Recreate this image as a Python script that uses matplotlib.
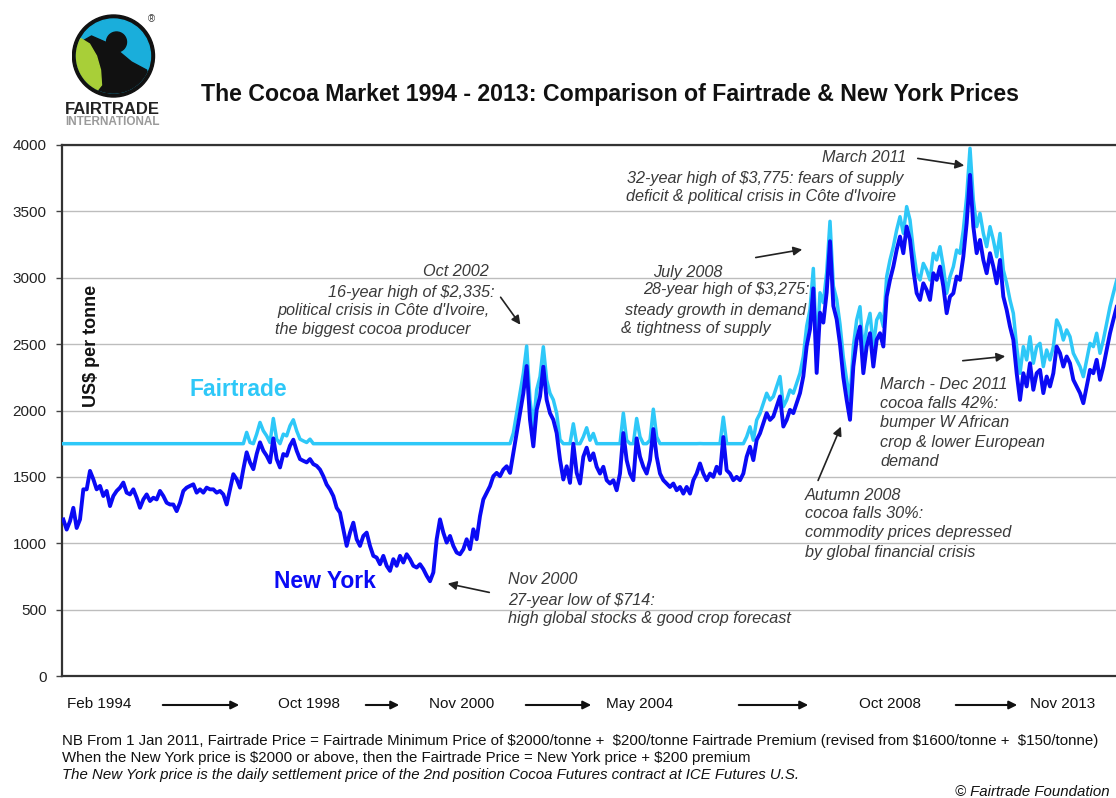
import numpy as np
import matplotlib
matplotlib.use("Agg")
import matplotlib.pyplot as plt
from matplotlib.patches import Circle, Polygon, FancyArrowPatch

# ---------------- data ----------------
# New York cocoa price, US$/tonne, sampled roughly every 3 weeks, Feb 1994 -> end 2013
ny_price = [
    1179, 1103, 1166, 1267, 1115, 1179, 1406, 1406, 1545, 1482,
    1406, 1432, 1356, 1394, 1280, 1356, 1394, 1419, 1457, 1381,
    1368, 1406, 1343, 1267, 1330, 1368, 1318, 1343, 1330, 1394,
    1356, 1305, 1292, 1292, 1242, 1305, 1394, 1419, 1432, 1444,
    1381, 1406, 1381, 1419, 1406, 1406, 1381, 1394, 1368, 1292,
    1406, 1520, 1482, 1419, 1558, 1685, 1609, 1558, 1672, 1760,
    1697, 1659, 1609, 1790, 1634, 1571, 1672, 1659, 1735, 1780,
    1697, 1634, 1621, 1609, 1634, 1596, 1583, 1555, 1505, 1442,
    1405, 1355, 1267, 1230, 1105, 980, 1080, 1155, 1030, 980,
    1055, 1080, 980, 905, 892, 842, 905, 830, 792, 880,
    830, 905, 855, 917, 880, 830, 817, 842, 805, 755,
    714, 780, 1030, 1180, 1080, 1005, 1055, 980, 930, 917,
    955, 1030, 955, 1105, 1030, 1205, 1330, 1380, 1430, 1505,
    1530, 1505, 1555, 1580, 1530, 1680, 1830, 1980, 2130, 2335,
    1930, 1730, 2005, 2105, 2330, 2080, 1980, 1930, 1830, 1630,
    1480, 1580, 1455, 1750, 1530, 1450, 1652, 1720, 1626, 1677,
    1576, 1525, 1576, 1475, 1450, 1475, 1399, 1525, 1830, 1626,
    1525, 1475, 1790, 1652, 1576, 1525, 1626, 1860, 1652, 1525,
    1475, 1450, 1424, 1450, 1399, 1424, 1374, 1424, 1374, 1475,
    1525, 1601, 1525, 1475, 1525, 1500, 1576, 1525, 1800, 1550,
    1525, 1475, 1500, 1475, 1525, 1652, 1727, 1626, 1778, 1828,
    1904, 1980, 1929, 1955, 2030, 2106, 1879, 1929, 2005, 1980,
    2056, 2131, 2258, 2485, 2611, 2920, 2283, 2737, 2662, 2889,
    3275, 2788, 2687, 2500, 2250, 2080, 1930, 2331, 2532, 2632,
    2281, 2482, 2582, 2331, 2532, 2582, 2482, 2858, 2984, 3084,
    3210, 3310, 3185, 3386, 3285, 3059, 2884, 2833, 2958, 2908,
    2833, 3034, 2984, 3084, 2934, 2733, 2858, 2883, 3009, 2984,
    3160, 3411, 3775, 3386, 3185, 3285, 3134, 3034, 3185, 3084,
    2958, 3134, 2858, 2758, 2632, 2532, 2281, 2080, 2281, 2181,
    2356, 2156, 2281, 2306, 2131, 2256, 2181, 2281, 2482, 2432,
    2331, 2407, 2356, 2231, 2181, 2131, 2055, 2181, 2306, 2281,
    2382, 2231, 2331, 2457, 2582, 2683, 2780,
]

# Fairtrade pricing rule (from the chart's footnote)
ft_min_price_old, ft_premium_old = 1600, 150   # before 1 Jan 2011
ft_min_price_new, ft_premium_new = 2000, 200   # from 1 Jan 2011
rule_change_sample = 268                       # first sample of 2011

x_labels = ["Feb 1994", "Oct 1998", "Nov 2000", "May 2004", "Oct 2008", "Nov 2013"]
y_ticks = [0, 500, 1000, 1500, 2000, 2500, 3000, 3500, 4000]

# ---------------- derived series ----------------
ny = np.array(ny_price, dtype=float)
samples = np.arange(1, len(ny) + 1)
ft = np.where(samples < rule_change_sample,
              np.maximum(ft_min_price_old + ft_premium_old, ny + ft_premium_old),
              np.maximum(ft_min_price_new + ft_premium_new, ny + ft_premium_new))

# ---------------- figure ----------------
W, H = 1116, 798
plt.rcParams['font.family'] = ['Liberation Sans', 'DejaVu Sans']
plt.rcParams['text.parse_math'] = False
fig = plt.figure(figsize=(W / 100, H / 100), dpi=100)
fig.patch.set_facecolor('white')


def P(x, y):
    return (x / W, 1 - y / H)


ax = fig.add_axes([62 / W, 1 - 676 / H, (W - 62) / W, (676 - 145) / H])
ax.set_xlim(0.6, 316.8)
ax.set_ylim(0, 4000)

FT_COL = '#2EC8F8'
NY_COL = '#0A0AF5'
ax.plot(samples, ft, color=FT_COL, lw=2.5, solid_joinstyle='round', zorder=3)
ax.plot(samples, ny, color=NY_COL, lw=2.8, solid_joinstyle='round', zorder=4)

ax.set_yticks(y_ticks)
ax.set_yticklabels([str(v) for v in y_ticks], fontsize=11, color='#222222')
ax.tick_params(axis='y', length=4, width=1, color='#444444', pad=7)
ax.yaxis.grid(True, color='#bdbdbd', lw=1)
ax.set_axisbelow(True)

tick_px = [99, 309, 462, 640, 890, 1063]
ax.set_xticks([(p - 60) / 3.333 for p in tick_px])
ax.set_xticklabels(x_labels, fontsize=11, color='#111111')
ax.tick_params(axis='x', length=0, pad=15)

for s in ['left', 'bottom', 'top']:
    ax.spines[s].set_color('#333333')
    ax.spines[s].set_linewidth(1.6)
ax.spines['right'].set_visible(False)

# arrows between the date labels
for x0, x1 in [(160, 242), (363, 402), (523, 594), (736, 811), (953, 1020)]:
    fig.add_artist(FancyArrowPatch(
        P(x0, 705), P(x1, 705), transform=fig.transFigure,
        arrowstyle='-|>', mutation_scale=12, lw=1.5, color='#111111'))

# series labels and axis label
fig.text(*P(238, 390), 'Fairtrade', color=FT_COL,
         fontsize=16.5, fontweight='bold', ha='center', va='center')
fig.text(*P(325, 582), 'New York', color=NY_COL,
         fontsize=16.5, fontweight='bold', ha='center', va='center')
fig.text(*P(91, 346), 'US$ per tonne', color='#111111',
         fontsize=13, fontweight='bold', ha='center', va='center', rotation=90)

# annotations
lines = [
    ("Oct 2002", 489, 272, 'right'),
    ("16-year high of $2,335:", 495, 292, 'right'),
    ("political crisis in Côte d'Ivoire,", 490, 311, 'right'),
    ("the biggest cocoa producer", 470, 330, 'right'),
    ("July 2008", 653, 272, 'left'),
    ("28-year high of $3,275:", 643, 290, 'left'),
    ("steady growth in demand", 625, 310, 'left'),
    ("& tightness of supply", 621, 329, 'left'),
    ("March 2011", 906, 158, 'right'),
    ("32-year high of $3,775: fears of supply", 627, 178, 'left'),
    ("deficit & political crisis in Côte d'Ivoire", 626, 197, 'left'),
    ("March - Dec 2011", 880, 385, 'left'),
    ("cocoa falls 42%:", 880, 404, 'left'),
    ("bumper W African", 880, 423, 'left'),
    ("crop & lower European", 880, 442, 'left'),
    ("demand", 880, 461, 'left'),
    ("Autumn 2008", 805, 495, 'left'),
    ("cocoa falls 30%:", 805, 514, 'left'),
    ("commodity prices depressed", 805, 533, 'left'),
    ("by global financial crisis", 805, 552, 'left'),
    ("Nov 2000", 508, 580, 'left'),
    ("27-year low of $714:", 508, 600, 'left'),
    ("high global stocks & good crop forecast", 508, 619, 'left'),
]
for t, x, y, ha in lines:
    fig.text(*P(x, y), t, ha=ha, va='center', fontsize=11.7, style='italic',
             color='#3a3a3a')

for (x0, y0), (x1, y1) in [((499, 295), (522, 327)), ((753, 258), (805, 249)),
                           ((915, 158), (967, 166)), ((960, 361), (1008, 356)),
                           ((817, 483), (842, 424)), ((492, 593), (445, 583))]:
    fig.add_artist(FancyArrowPatch(
        P(x0, y0), P(x1, y1), transform=fig.transFigure,
        arrowstyle='-|>', mutation_scale=13, lw=1.2, color='#222222'))

# title
fig.text(*P(610, 95), 'The Cocoa Market 1994 - 2013: Comparison of Fairtrade & New York Prices',
         fontsize=16.7, fontweight='bold', color='#111111', ha='center', va='center')

# footnotes
NOTE = dict(fontsize=10.8, color='#111111', va='center')
fig.text(*P(62, 741), 'NB From 1 Jan 2011, Fairtrade Price = Fairtrade Minimum Price of $2000/tonne +  '
         '$200/tonne Fairtrade Premium (revised from $1600/tonne +  $150/tonne)', **NOTE)
fig.text(*P(62, 758), 'When the New York price is $2000 or above, then the Fairtrade Price = '
         'New York price + $200 premium', **NOTE)
fig.text(*P(62, 775), 'The New York price is the daily settlement price of the 2nd position Cocoa '
         'Futures contract at ICE Futures U.S.', style='italic', **NOTE)
fig.text(*P(1110, 792), '© Fairtrade Foundation', ha='right', style='italic', **NOTE)

# logo
lax = fig.add_axes([71.5 / W, 1 - 98 / H, 84 / W, 84 / H])
lax.set_xlim(-42, 42)
lax.set_ylim(-42, 42)
lax.set_aspect('equal')
lax.axis('off')
lax.add_patch(Circle((0, 0), 41, color='#111111'))
lax.add_patch(Circle((0, 0), 37, color='#1AAEDB'))
ang = np.radians(np.linspace(-25, -200, 40))
blk = [(-36, 12), (-22, 20), (-6, 13), (6, 4), (18, -6), (33, -14)]
blk += [(37 * np.cos(a), 37 * np.sin(a)) for a in ang]
lax.add_patch(Polygon(blk, closed=True, color='#111111'))
ang = np.radians(np.linspace(152, 245, 30))
grn = [(37 * np.cos(a), 37 * np.sin(a)) for a in ang]
grn += [(-12, -29), (-13, -14), (-17, 0), (-24, 12)]
lax.add_patch(Polygon(grn, closed=True, color='#A8CF38'))
lax.add_patch(Circle((3, 14), 10, color='#111111'))
fig.text(*P(151, 19), '®', fontsize=7, color='#333333', ha='center', va='center')
fig.text(*P(112, 110), 'FAIRTRADE', fontsize=12, fontweight='bold', color='#222222',
         ha='center', va='center')
fig.text(*P(112, 122), 'INTERNATIONAL', fontsize=8.5, fontweight='bold', color='#9a9a9a',
         ha='center', va='center')

fig.savefig('out.png', dpi=100, facecolor='white')
